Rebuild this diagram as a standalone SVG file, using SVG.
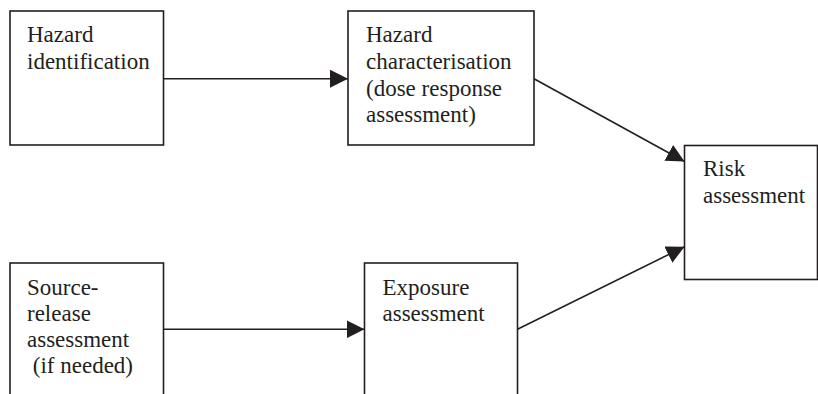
<svg xmlns="http://www.w3.org/2000/svg" width="818" height="394" viewBox="0 0 818 394">
  <style>
    .box { fill: #ffffff; stroke: #231f20; stroke-width: 1.6; }
    .label { font-family: "Liberation Serif", "Times New Roman", serif; font-size: 23px; fill: #231f20; }
    .edge { stroke: #231f20; stroke-width: 1.6; fill: none; marker-end: url(#head); }
  </style>
  <defs>
    <marker id="head" markerUnits="userSpaceOnUse" markerWidth="18" markerHeight="18" viewBox="0 0 18 18" refX="18" refY="9" orient="auto">
      <path d="M0,0 L18,9 L0,18 Z" fill="#231f20"/>
    </marker>
  </defs>
  <rect width="818" height="394" fill="#ffffff"/>

  <g id="hazard-identification">
    <rect class="box" x="10" y="11" width="153.5" height="134"/>
    <text class="label" x="27" y="42">Hazard</text>
    <text class="label" x="27" y="69">identification</text>
  </g>

  <g id="hazard-characterisation">
    <rect class="box" x="348" y="11" width="186" height="134"/>
    <text class="label" x="366" y="42">Hazard</text>
    <text class="label" x="366" y="69">characterisation</text>
    <text class="label" x="366" y="95.5">(dose response</text>
    <text class="label" x="366" y="122">assessment)</text>
  </g>

  <g id="risk-assessment">
    <rect class="box" x="684.5" y="145.5" width="133" height="134"/>
    <text class="label" x="703" y="175.5">Risk</text>
    <text class="label" x="703" y="202.5">assessment</text>
  </g>

  <g id="source-release">
    <rect class="box" x="10" y="263" width="153.5" height="140"/>
    <text class="label" x="27" y="295">Source-</text>
    <text class="label" x="27" y="321">release</text>
    <text class="label" x="27" y="347">assessment</text>
    <text class="label" x="27" y="373" xml:space="preserve"> (if needed)</text>
  </g>

  <g id="exposure-assessment">
    <rect class="box" x="364.5" y="263" width="153" height="140"/>
    <text class="label" x="382.5" y="294.5">Exposure</text>
    <text class="label" x="382.5" y="320.5">assessment</text>
  </g>

  <g id="connectors">
    <line class="edge" x1="163.5" y1="78.7" x2="348" y2="78.7"/>
    <line class="edge" x1="534" y1="78.7" x2="684.5" y2="161.5"/>
    <line class="edge" x1="163.5" y1="329.3" x2="364.5" y2="329.3"/>
    <line class="edge" x1="517.5" y1="329.3" x2="684.5" y2="246.7"/>
  </g>
</svg>
